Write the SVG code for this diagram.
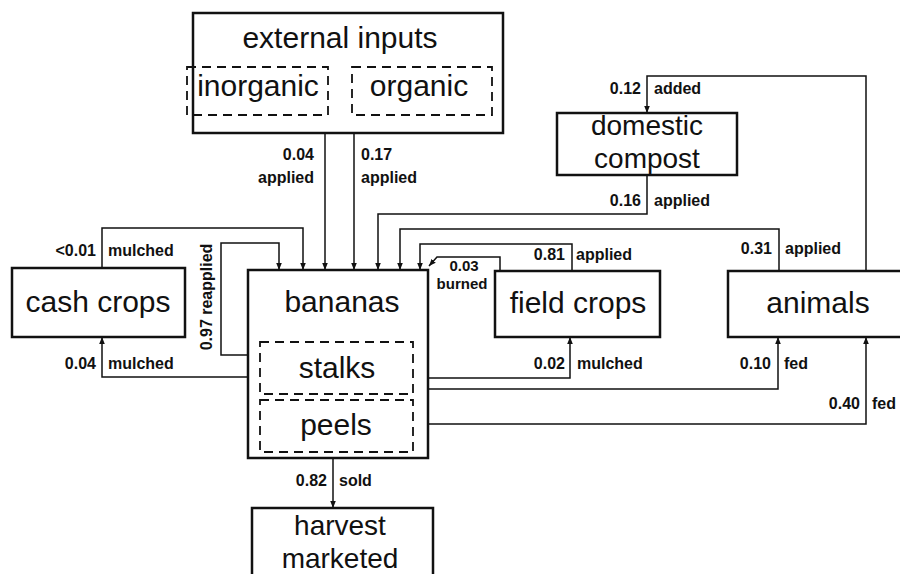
<svg xmlns="http://www.w3.org/2000/svg" width="900" height="574" viewBox="0 0 900 574">
<defs>
<style>
.box{fill:#fff;stroke:#111;stroke-width:2.5}
.dash{fill:none;stroke:#111;stroke-width:1.8;stroke-dasharray:9 6}
.big{font-family:"Liberation Sans",Arial,sans-serif;font-size:30px;fill:#111;text-anchor:middle}
.two{font-size:28px}
.lbl{font-family:"Liberation Sans",Arial,sans-serif;font-size:16px;font-weight:bold;fill:#111}
.sm{font-size:15px}
.r{text-anchor:end}
.c{text-anchor:middle}
.ln{fill:none;stroke:#111;stroke-width:1.5}
</style>
<marker id="ah" viewBox="0 0 10 10" refX="10" refY="5" markerWidth="7" markerHeight="7" markerUnits="userSpaceOnUse" orient="auto">
<path d="M0,1 L10,5 L0,9 Z" fill="#111"/>
</marker>
</defs>
<rect width="900" height="574" fill="#fff"/>

<g id="connectors">
<path class="ln" d="M325,115 V270" marker-end="url(#ah)"/>
<path class="ln" d="M354,115 V270" marker-end="url(#ah)"/>
<path class="ln" d="M102,268 V228 H303 V270" marker-end="url(#ah)"/>
<path class="ln" d="M260,355 H221 V243 H279 V270" marker-end="url(#ah)"/>
<path class="ln" d="M647,175 V214 H378 V270" marker-end="url(#ah)"/>
<path class="ln" d="M779,271 V229 H400 V270" marker-end="url(#ah)"/>
<path class="ln" d="M572,271 V244 H420 V270" marker-end="url(#ah)"/>
<path class="ln" d="M500,271 V257 H437 L429,266" marker-end="url(#ah)"/>
<path class="ln" d="M866,271 V76 H647 V113" marker-end="url(#ah)"/>
<path class="ln" d="M260,377 H102 V337" marker-end="url(#ah)"/>
<path class="ln" d="M413,378 H570 V337" marker-end="url(#ah)"/>
<path class="ln" d="M413,389 H778 V337" marker-end="url(#ah)"/>
<path class="ln" d="M413,424 H866 V337" marker-end="url(#ah)"/>
<path class="ln" d="M333,458 V508" marker-end="url(#ah)"/>

<text class="lbl r" x="314" y="160">0.04</text>
<text class="lbl r" x="314" y="183">applied</text>
<text class="lbl" x="361" y="160">0.17</text>
<text class="lbl" x="361" y="183">applied</text>
<text class="lbl r" x="96" y="256">&lt;0.01</text>
<text class="lbl" x="108" y="256">mulched</text>
<text class="lbl r" x="96" y="369">0.04</text>
<text class="lbl" x="108" y="369">mulched</text>
<text class="lbl" transform="translate(212,297) rotate(-90)" text-anchor="middle">0.97 reapplied</text>
<text class="lbl r" x="641" y="94">0.12</text>
<text class="lbl" x="654" y="94">added</text>
<text class="lbl r" x="641" y="206">0.16</text>
<text class="lbl" x="654" y="206">applied</text>
<text class="lbl r" x="772" y="254">0.31</text>
<text class="lbl" x="785" y="254">applied</text>
<text class="lbl r" x="565" y="260">0.81</text>
<text class="lbl" x="576" y="260">applied</text>
<text class="lbl sm c" x="464" y="271">0.03</text>
<text class="lbl sm c" x="462" y="289">burned</text>
<text class="lbl r" x="565" y="369">0.02</text>
<text class="lbl" x="577" y="369">mulched</text>
<text class="lbl r" x="771" y="369">0.10</text>
<text class="lbl" x="784" y="369">fed</text>
<text class="lbl r" x="860" y="409">0.40</text>
<text class="lbl" x="872" y="409">fed</text>
<text class="lbl r" x="327" y="486">0.82</text>
<text class="lbl" x="339" y="486">sold</text>
</g>

<g id="external-inputs">
<rect class="box" x="193" y="13" width="310" height="120"/>
<text class="big" x="340" y="48">external inputs</text>
</g>
<g id="inorganic">
<rect class="dash" x="187" y="67" width="141" height="48"/>
<text class="big" x="258" y="96">inorganic</text>
</g>
<g id="organic">
<rect class="dash" x="352" y="67" width="140" height="48"/>
<text class="big" x="419" y="96">organic</text>
</g>

<g id="domestic-compost">
<rect class="box" x="557" y="113" width="180" height="62"/>
<text class="big two" x="647" y="135">domestic</text>
<text class="big two" x="647" y="168">compost</text>
</g>

<g id="cash-crops">
<rect class="box" x="12" y="268" width="173" height="69"/>
<text class="big" x="98" y="312">cash crops</text>
</g>

<g id="bananas">
<rect class="box" x="248" y="270" width="180" height="188"/>
<text class="big" x="342" y="312">bananas</text>
</g>
<g id="stalks">
<rect class="dash" x="260" y="342" width="153" height="52"/>
<text class="big" x="337" y="378">stalks</text>
</g>
<g id="peels">
<rect class="dash" x="260" y="400" width="153" height="52"/>
<text class="big" x="336" y="435">peels</text>
</g>

<g id="field-crops">
<rect class="box" x="495" y="271" width="165" height="66"/>
<text class="big" x="578" y="313">field crops</text>
</g>

<g id="animals">
<rect class="box" x="728" y="271" width="185" height="66"/>
<text class="big" x="818" y="313">animals</text>
</g>

<g id="harvest-marketed">
<rect class="box" x="252" y="508" width="181" height="80"/>
<text class="big two" x="340" y="535">harvest</text>
<text class="big two" x="340" y="568">marketed</text>
</g>
</svg>
